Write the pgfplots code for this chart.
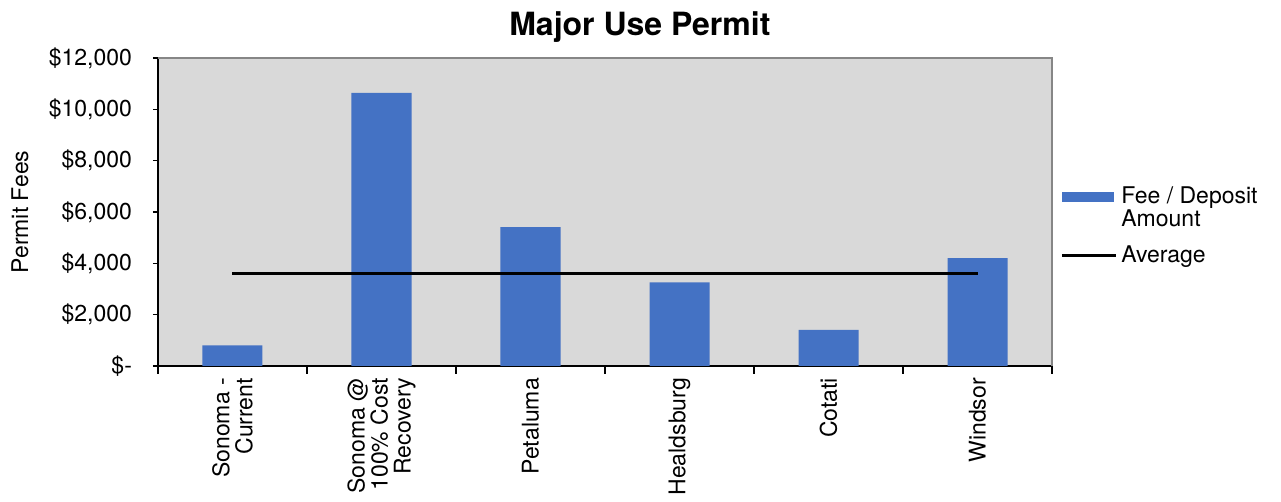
\documentclass[border=0pt]{standalone}
\usepackage{pgfplots}
\pgfplotsset{compat=1.18}
\usepackage{fontspec}
\setmainfont{TeX Gyre Heros}
\definecolor{barblue}{HTML}{4472C4}
\definecolor{plotbg}{HTML}{D9D9D9}
\definecolor{framegray}{HTML}{868686}
\newcommand{\lblfont}{\fontsize{11.5}{11.5}\selectfont}
\begin{document}
\begin{tikzpicture}
\path[use as bounding box] (0,0) rectangle (640.5pt,251pt);
\begin{axis}[
  at={(79pt,68pt)}, anchor=south west,
  scale only axis, width=447pt, height=154pt,
  xmin=-0.5, xmax=5.5, ymin=0, ymax=12000,
  scaled y ticks=false,
  axis background/.style={fill=plotbg},
  axis x line*=bottom, axis y line*=left,
  axis line style={black, line width=0.6pt, -},
  tick style={black, line width=0.6pt},
  tick align=outside,
  xtick={0,...,5},
  xticklabels={{Sonoma -\\Current},{Sonoma @\\100\% Cost\\Recovery},Petaluma,Healdsburg,Cotati,Windsor},
  major x tick style={draw=none},
  minor xtick={-0.5,0.5,...,5.5},
  minor tick length=4pt,
  major tick length=2.5pt,
  ytick={0,2000,...,12000},
  yticklabels={{\$-\hspace{6.5pt}},{\$2,000},{\$4,000},{\$6,000},{\$8,000},{\$10,000},{\$12,000}},
  yticklabel style={font=\lblfont, xshift=-7pt},
  xticklabel style={font=\lblfont, rotate=90, anchor=east, align=right},
  ylabel={Permit Fees},
  ylabel style={font=\lblfont, at={(axis description cs:-0.1544,0.5)}, anchor=center},
  title={Major Use Permit},
  title style={font=\fontsize{16}{16}\selectfont\bfseries, at={(0.539,1)}, anchor=base, yshift=5pt},
  legend style={at={(1,0.455)}, anchor=west, xshift=1pt, draw=none, fill=none, font=\lblfont,
    cells={anchor=west, align=left}, row sep=4pt},
  clip=false,
]
\addplot[ybar, bar width=30pt, fill=barblue, draw=none,
  legend image code/.code={\fill[barblue] (0pt,3pt) rectangle (26pt,8pt);}]
  coordinates {(0,800) (1,10640) (2,5410) (3,3260) (4,1410) (5,4200)};
\addlegendentry{Fee / Deposit\\Amount}
\addplot[sharp plot, black, line width=1.5pt, mark=none,
  legend image code/.code={\draw[black, line width=1.5pt] (0pt,0pt) -- (27pt,0pt);}]
  coordinates {(0,3600) (1,3600) (2,3600) (3,3600) (4,3600) (5,3600)};
\addlegendentry{Average}
\draw[framegray, line width=1.2pt] (rel axis cs:0,1) -- (rel axis cs:1,1) -- (rel axis cs:1,0);
\end{axis}
\end{tikzpicture}
\end{document}
